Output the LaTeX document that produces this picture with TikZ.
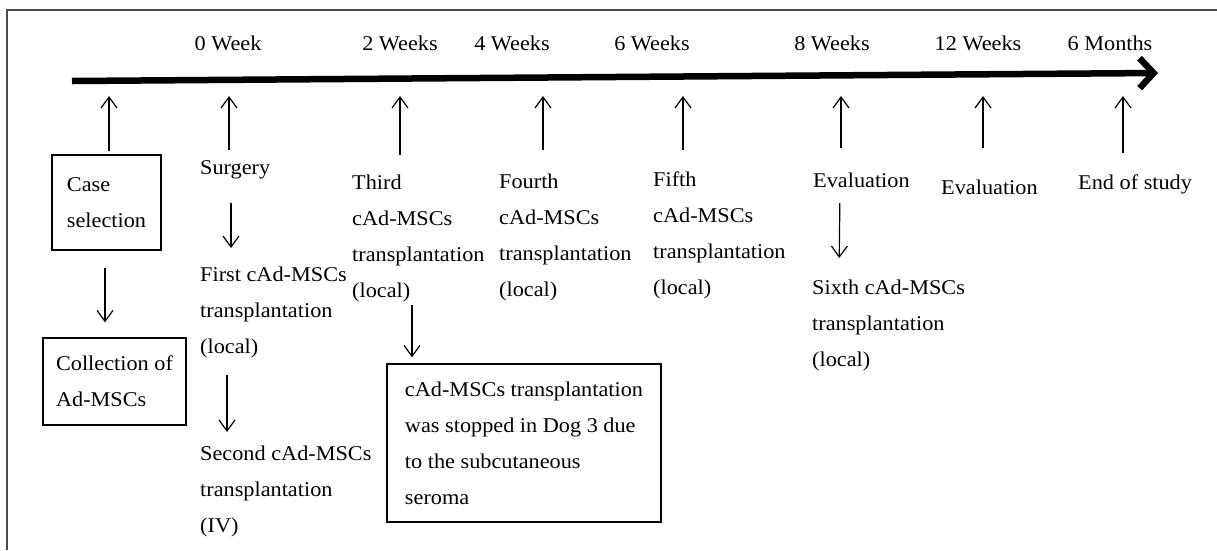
\documentclass[tikz,border=0pt]{standalone}
\usepackage{fontspec}
\setmainfont[FakeStretch=1.06]{Liberation Serif}
\usetikzlibrary{arrows.meta}

\begin{document}
\begin{tikzpicture}[x=1pt, y=-1pt,
		txt/.style={font=\fontsize{21}{36}\selectfont, inner sep=0pt, align=left, anchor=north west},
		boxed/.style={draw, line width=1.3pt, font=\fontsize{21}{36}\selectfont, inner sep=0pt, align=left},
		evarrow/.style={line width=1.2pt, -{Straight Barb[length=11pt,width=16pt]}}]
	{
		\useasboundingbox (0,0) rectangle (1217,550);
		\draw[line width=1.5pt, black!70] (7,550) -- (7,10) -- (1217,10);

		% time axis
		\coordinate (tlstart) at (72,81);
		\coordinate (tlend) at (1158,73);
		\draw[line width=6.5pt, -{Straight Barb[length=14pt,width=30pt]}] (tlstart) -- (tlend);

		\foreach \x/\wk in {228/0 Week, 400/2 Weeks, 512/4 Weeks, 652/6 Weeks, 832/8 Weeks, 978/12 Weeks, 1110/6 Months}
			\node[font=\fontsize{21}{22}\selectfont, anchor=base, inner sep=0pt] (wk\x) at (\x,50) {\wk};

		% boxes
		\node[boxed, minimum width=109pt, minimum height=95pt] (case) at (106.5,202.5) {Case\\selection};
		\node[boxed, minimum width=143pt, minimum height=87pt] (coll) at (114.5,381.5) {Collection of\\Ad-MSCs};
		\node[boxed, minimum width=274pt, minimum height=158pt] (seroma) at (524,443)
			{cAd-MSCs transplantation\\was stopped in Dog 3 due\\to the subcutaneous\\seroma};

		% events
		\node[txt] (surg) at (200,160) {Surgery};
		\node[txt] (first) at (200,267) {First cAd-MSCs\\transplantation\\(local)};
		\node[txt] (second) at (200,446) {Second cAd-MSCs\\transplantation\\(IV)};
		\node[txt] (third) at (352,175) {Third\\cAd-MSCs\\transplantation\\(local)};
		\node[txt] (fourth) at (499,174) {Fourth\\cAd-MSCs\\transplantation\\(local)};
		\node[txt] (fifth) at (653,172) {Fifth\\cAd-MSCs\\transplantation\\(local)};
		\node[txt] (evalA) at (813,173) {Evaluation};
		\node[txt] (sixth) at (812,280) {Sixth cAd-MSCs\\transplantation\\(local)};
		\node[txt] (evalB) at (941,180) {Evaluation};
		\node[txt] (endst) at (1078,175) {End of study};

		\foreach \n/\x/\s in {case/109/3, surg/229/10, third/400/20, fourth/543/24, fifth/683/22, evalA/841/25, evalB/983/32, endst/1123/22}
		{
			\coordinate (up\n) at (\x,96);
			\draw[evarrow, shorten <=\s pt] (up\n |- \n.north) -- (up\n);
		}

		\draw[evarrow, shorten <=17pt, shorten >=15pt] ([xshift=-1.5pt]case.south) -- ([xshift=-9.5pt]coll.north);
		\draw[evarrow, shorten <=24pt, shorten >=19pt] ([xshift=31pt]surg.south west) -- ([xshift=31pt]first.north west);
		\draw[evarrow, shorten <=17pt, shorten >=14pt] ([xshift=27pt]first.south west) -- ([xshift=27pt]second.north west);
		\draw[evarrow, shorten <=3pt, shorten >=6pt] ([xshift=60pt]third.south west) -- ([xshift=60pt]third.south west |- seroma.north);
		\draw[evarrow, shorten <=15pt, shorten >=22pt] ([xshift=27pt]evalA.south west) -- ([xshift=27pt]sixth.north west);
	}
\end{tikzpicture}
\end{document}
